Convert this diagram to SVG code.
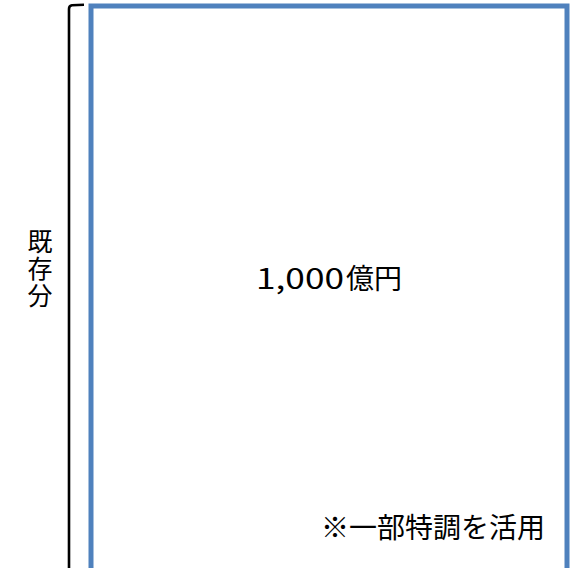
<svg xmlns="http://www.w3.org/2000/svg" width="574" height="568" viewBox="0 0 574 568">
<style>
.t{font-family:"Noto Sans CJK JP","Noto Sans",sans-serif;fill:#000}
.v{writing-mode:vertical-rl;letter-spacing:2px}
</style>
<rect width="574" height="568" fill="#fff"/>
<g id="bracket">
<path d="M84,4.8 L72,5.2 Q69,5.5 69,9 L69,575" fill="none" stroke="#000" stroke-width="2.6"/>
</g>
<g id="label-existing">
<text class="t v" font-size="25" x="40" y="229">既存分</text>
</g>
<g id="box">
<rect x="91" y="6" width="476" height="600" fill="none" stroke="#4F81BD" stroke-width="5"/>
<text class="t" font-size="28" y="289"><tspan x="256" textLength="88" lengthAdjust="spacingAndGlyphs">1,000</tspan><tspan x="346">億円</tspan></text>
<text class="t" font-size="28" x="545" y="538" text-anchor="end">※一部特調を活用</text>
</g>
<g id="connectors"/>
</svg>
